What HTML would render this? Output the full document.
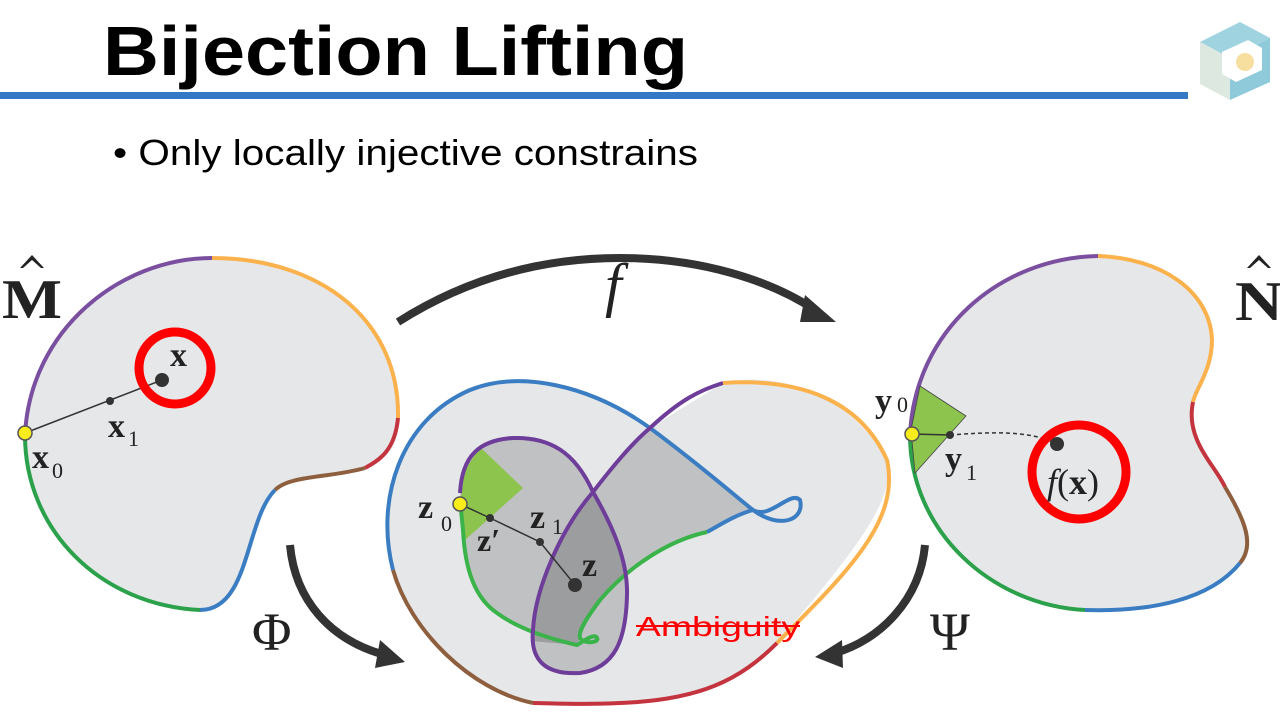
<!DOCTYPE html>
<html><head><meta charset="utf-8"><style>
html,body{margin:0;padding:0;background:#fff;}
svg{display:block;}
</style></head><body>
<svg width="1280" height="719" viewBox="0 0 1280 719" xmlns="http://www.w3.org/2000/svg">
<defs>
<clipPath id="loop"><path d="M593,492 C612,525 628,560 627,595 C626,640 615,668 580,673 C545,675 530,660 533,630 C535,590 560,530 593,492Z"/></clipPath>
</defs>
<text x="103" y="75" font-family="Liberation Sans, sans-serif" font-weight="bold" font-size="70" textLength="585" lengthAdjust="spacingAndGlyphs">Bijection Lifting</text>
<rect x="0" y="92" width="1188" height="7" fill="#3478c6"/>
<text x="113" y="165" font-family="Liberation Sans, sans-serif" font-size="36" textLength="585" lengthAdjust="spacingAndGlyphs">• Only locally injective constrains</text>
<!-- logo -->
<g>
<polygon points="1200,42 1240,22 1270,38 1230,58" fill="#9fd3e0"/>
<polygon points="1200,42 1230,58 1230,100 1200,84" fill="#dde9e0"/>
<polygon points="1230,58 1270,38 1270,82 1230,100" fill="#8fcadb"/>
<polygon points="1222,52 1248,40 1262,48 1262,70 1236,82 1222,74" fill="#fff"/>
<circle cx="1245" cy="62" r="9" fill="#f7dfa0"/>
</g>
<!-- Left shape M -->
<g stroke-width="4" fill="none">
<path d="M25,435 C30,330 120,258 212,258 C320,258 400,320 398,418 C395,450 380,460 365,468 C330,478 290,475 275,490 C245,520 250,610 200,610 C100,605 25,530 25,435Z" fill="#e6e7e9" stroke="none"/>
<path d="M25,435 C30,330 120,258 212,258" stroke="#7b4fa0"/>
<path d="M212,258 C320,258 400,320 398,418" stroke="#fbb24c"/>
<path d="M398,418 C395,450 380,460 365,468" stroke="#c3343e"/>
<path d="M365,468 C330,478 290,475 275,490" stroke="#8e5f3e"/>
<path d="M275,490 C245,520 250,610 200,610" stroke="#3a7dc2"/>
<path d="M200,610 C100,605 25,530 25,435" stroke="#2aa14a"/>
</g>
<line x1="25" y1="433" x2="162" y2="380" stroke="#333" stroke-width="1.5"/>
<circle cx="110" cy="401" r="4" fill="#333"/>
<circle cx="162" cy="380" r="7" fill="#333"/>
<circle cx="25" cy="433" r="7" fill="#f8ec1a" stroke="#555" stroke-width="1.5"/>
<circle cx="175" cy="368" r="36" fill="none" stroke="#f00" stroke-width="9"/>
<g font-family="Liberation Serif, serif" fill="#222">
<text x="2" y="318" font-size="56" font-weight="bold" textLength="60" lengthAdjust="spacingAndGlyphs">M</text>
<text x="170" y="366" font-size="34" font-weight="bold">x</text>
<text x="108" y="437" font-size="34" font-weight="bold">x</text><text x="128" y="446" font-size="22">1</text>
<text x="32" y="468" font-size="34" font-weight="bold">x</text><text x="52" y="478" font-size="22">0</text>
</g>
<polygon points="20,268 32,255 44,268 41,268 32,260 23,268" fill="#222"/>
<!-- Middle shape -->
<path d="M393,570 C375,500 400,420 470,390 C520,370 580,385 650,428 L723,383 C780,370 850,395 887,460 C895,500 860,545 777,643 C740,680 700,700 620,703 C570,705 545,703 533,703 C470,690 410,630 393,570Z" fill="#e6e7e9"/>
<path d="M460,493 C462,455 480,440 513,438 C550,437 575,452 593,492 C610,470 630,445 650,428 L753,510 L707,532 C670,540 630,565 600,600 C585,620 578,632 580,638 L577,645 C555,640 520,630 497,613 C475,598 465,570 463,530Z" fill="#c0c1c3"/>
<path d="M593,492 C612,525 628,560 627,595 C626,640 615,668 580,673 C545,675 530,660 533,630 C535,590 560,530 593,492Z" fill="#c0c1c3"/>
<path clip-path="url(#loop)" d="M520,450 L720,450 L707,532 C670,540 630,565 600,600 C585,620 578,632 580,638 L577,645 L520,640Z" fill="#9c9d9f"/>
<polygon points="480,447 523,488 465,540 460,503 465,470" fill="#8dc44d"/>
<g stroke-width="4" fill="none">
<path d="M393,570 C375,500 400,420 470,390 C520,370 590,385 650,428 C700,465 740,500 753,510 C770,520 790,490 800,500 C805,520 780,530 753,510 C735,515 720,525 707,532" stroke="#3a7dc2"/>
<path d="M707,532 C670,540 630,565 600,600 C585,620 578,632 580,638 C585,645 600,642 597,638 C595,633 585,640 577,645 C555,640 520,630 497,613 C475,598 465,570 463,530 L460,500" stroke="#3ab34a"/>
<path d="M460,493 C462,455 480,440 513,438 C550,437 575,452 593,492 C612,525 628,560 627,595 C626,640 615,668 580,673 C545,675 530,660 533,630 C535,590 560,530 593,492 C610,470 630,445 650,428 C680,400 700,390 723,383" stroke="#6e3d9a"/>
<path d="M723,383 C800,378 860,400 887,460 C900,520 850,570 777,643" stroke="#fbb24c"/>
<path d="M777,643 C740,680 700,700 620,703 C580,705 550,703 533,703" stroke="#c3343e"/>
<path d="M533,703 C470,690 410,630 393,570" stroke="#8e5f3e"/>
</g>
<polyline points="462,505 490,518 540,542 575,585" fill="none" stroke="#333" stroke-width="1.5"/>
<circle cx="490" cy="518" r="4" fill="#333"/><circle cx="540" cy="542" r="4" fill="#333"/><circle cx="575" cy="585" r="7" fill="#333"/>
<circle cx="460" cy="504" r="7" fill="#f8ec1a" stroke="#555" stroke-width="1.5"/>
<g font-family="Liberation Serif, serif" fill="#222" font-weight="bold">
<text x="418" y="518" font-size="34">z</text><text x="441" y="531" font-size="22" font-weight="normal">0</text>
<text x="477" y="551" font-size="32">z′</text>
<text x="530" y="528" font-size="34">z</text><text x="552" y="534" font-size="22" font-weight="normal">1</text>
<text x="582" y="576" font-size="34">z</text>
</g>
<text x="636" y="636" font-family="Liberation Sans, sans-serif" font-size="28" fill="#f00" textLength="164" lengthAdjust="spacingAndGlyphs">Ambiguity</text>
<line x1="636" y1="626" x2="800" y2="626" stroke="#f00" stroke-width="2"/>
<!-- Right shape N -->
<g stroke-width="4" fill="none">
<path d="M910,435 C915,330 1000,258 1098,256 C1160,258 1210,290 1212,340 C1212,370 1195,390 1193,402 C1185,440 1215,465 1225,487 C1245,520 1255,545 1240,563 C1210,600 1150,612 1085,610 C990,605 910,530 910,435Z" fill="#e6e7e9" stroke="none"/>
<path d="M910,435 C915,330 1000,258 1098,256" stroke="#7b4fa0"/>
<path d="M1098,256 C1160,258 1210,290 1212,340 C1212,370 1195,390 1193,402" stroke="#fbb24c"/>
<path d="M1193,402 C1185,440 1215,465 1225,487" stroke="#c3343e"/>
<path d="M1225,487 C1245,520 1255,545 1240,563" stroke="#8e5f3e"/>
<path d="M1240,563 C1210,600 1150,612 1085,610" stroke="#3a7dc2"/>
<path d="M1085,610 C990,605 910,530 910,435" stroke="#2aa14a"/>
</g>
<polygon points="920,386 966,416 915,473 911,430" fill="#8dc44d" stroke="#444" stroke-width="0.8"/>
<line x1="912" y1="434" x2="950" y2="435" stroke="#333" stroke-width="1.5"/>
<path d="M950,435 C990,432 1030,430 1057,444" fill="none" stroke="#333" stroke-width="1.5" stroke-dasharray="4,3"/>
<circle cx="950" cy="435" r="4" fill="#333"/>
<circle cx="1057" cy="444" r="7" fill="#333"/>
<circle cx="912" cy="434" r="7" fill="#f8ec1a" stroke="#555" stroke-width="1.5"/>
<circle cx="1079" cy="472" r="47" fill="none" stroke="#f00" stroke-width="9"/>
<g font-family="Liberation Serif, serif" fill="#222">
<text x="875" y="412" font-size="34" font-weight="bold">y</text><text x="897" y="412" font-size="22">0</text>
<text x="945" y="470" font-size="34" font-weight="bold">y</text><text x="966" y="480" font-size="22">1</text>
<text x="1047" y="494" font-size="36"><tspan font-style="italic">f</tspan>(<tspan font-weight="bold">x</tspan>)</text>
<text x="1235" y="320" font-size="56" font-weight="bold" textLength="48" lengthAdjust="spacingAndGlyphs">N</text>
<text x="605" y="305" font-size="60" font-style="italic">f</text>
<text x="252" y="650" font-size="54">Φ</text>
<text x="930" y="650" font-size="54">Ψ</text>
</g>
<polygon points="1247,268 1259,255 1271,268 1268,268 1259,260 1250,268" fill="#222"/>
<!-- arrows -->
<g fill="none" stroke="#333" stroke-width="8">
<path d="M398,322 C480,270 560,258 620,258 C700,258 770,280 815,310"/>
<path d="M290,545 C295,600 330,640 385,655"/>
<path d="M925,545 C920,600 880,640 835,653"/>
</g>
<g fill="#333">
<polygon points="836,322 805,295 800,322"/>
<polygon points="405,662 380,640 375,668"/>
<polygon points="815,657 842,640 843,668"/>
</g>
</svg>
</body></html>
